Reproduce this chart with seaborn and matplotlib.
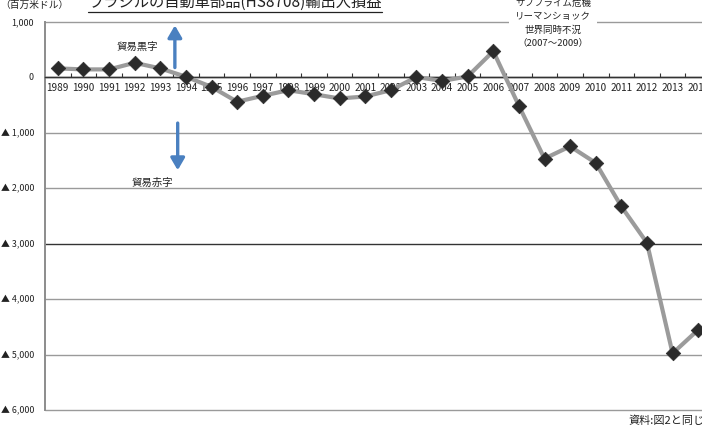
import numpy as np
import pandas as pd
import matplotlib
matplotlib.use("Agg")
import matplotlib.pyplot as plt
import seaborn as sns
from matplotlib.ticker import FuncFormatter, FixedLocator
from matplotlib.lines import Line2D

# Brazil auto-parts (HS8708) trade balance, million USD
years = list(range(1989, 2015))
balance = [155, 137, 137, 256, 155, 5, -178, -446, -339, -238, -310, -387,
           -351, -238, 0, -71, 10, 464, -518, -1470, -1250, -1548, -2333,
           -2988, -4980, -4554]
y_ticks = [1000, 0, -1000, -2000, -3000, -4000, -5000, -6000]

title = "ブラジルの自動車部品(HS8708)輸出入損益"
unit = "（百万米ドル）"
crisis_note = "サブプライム危機\nリーマンショック\n世界同時不況\n（2007〜2009）"
surplus_label = "貿易黒字"
deficit_label = "貿易赤字"
source = "資料:図2と同じ"

sns.set_theme(style="white")
plt.rcParams["font.family"] = ["Noto Sans CJK JP", "DejaVu Sans"]

df = pd.DataFrame({"year": years, "balance": balance})

fig = plt.figure(figsize=(7.02, 4.25), dpi=100)
ax = fig.add_axes([45 / 702, 1 - 410 / 425, 666 / 702, (410 - 21.5) / 425])

# horizontal grid
for v in y_ticks:
    dark = v in (0, -3000)
    ax.axhline(v, color="#333333" if dark else "#9a9a9a", lw=1.0, zorder=1,
               clip_on=False)

sns.lineplot(data=df, x="year", y="balance", color="#9b9b9b", lw=3.0,
             ax=ax, zorder=3)
sns.scatterplot(data=df, x="year", y="balance", marker="D", s=55,
                color="#2b2b2b", edgecolor="#2b2b2b", linewidth=0.5,
                ax=ax, zorder=4)

ax.set_xlim(years[0] - 0.5, years[-1] + 0.5)
ax.set_ylim(min(y_ticks), max(y_ticks))
ax.set_xlabel("")
ax.set_ylabel("")

# category axis sitting on the zero line
ax.spines["bottom"].set_position(("data", 0))
ax.spines["bottom"].set_color("#333333")
ax.spines["bottom"].set_linewidth(1.0)
ax.spines["left"].set_color("#8c8c8c")
ax.spines["left"].set_linewidth(1.4)
ax.spines["top"].set_visible(False)
ax.spines["right"].set_visible(False)

ax.xaxis.set_major_locator(FixedLocator(years))
ax.xaxis.set_minor_locator(FixedLocator([y + 0.5 for y in years]))
ax.set_xticklabels([str(y) for y in years])
ax.tick_params(axis="x", which="major", length=0, pad=4, labelsize=7.2,
               labelcolor="#222222")
ax.tick_params(axis="x", which="minor", length=3, direction="in",
               color="#333333", width=0.8, bottom=True)

def fmt(v, _):
    if v > 0:
        return f"{int(v):,}"
    if v == 0:
        return "0"
    return f"▲ {int(-v):,}"

ax.yaxis.set_major_locator(FixedLocator(y_ticks))
ax.yaxis.set_major_formatter(FuncFormatter(fmt))
ax.tick_params(axis="y", length=0, pad=8, labelsize=6.4, labelcolor="#222222")

# surplus / deficit arrows
arrow_kw = dict(arrowstyle="-|>,head_length=0.6,head_width=0.35",
                color="#4a80c0", lw=2.4)
ax.annotate("", xy=(1993.57, 980), xytext=(1993.57, 120),
            arrowprops=arrow_kw, zorder=5)
ax.annotate("", xy=(1993.68, -1730), xytext=(1993.68, -780),
            arrowprops=arrow_kw, zorder=5)
ax.text(1992.1, 540, surplus_label, ha="center", va="center", fontsize=7.5,
        color="#222222", zorder=6)
ax.text(1992.67, -1910, deficit_label, ha="center", va="center", fontsize=7.5,
        color="#222222", zorder=6)

# crisis note, breaking the top gridline
fig.text(553 / 702, 1 - 23 / 425, crisis_note, ha="center", va="center",
         fontsize=6.8, color="#222222", linespacing=1.55,
         bbox=dict(facecolor="white", edgecolor="none", pad=4))

# header
fig.text(0.0, 1 - 5 / 425, unit, ha="left", va="center", fontsize=7.0,
         color="#222222")
t = fig.text(88 / 702, 1 - 2 / 425, title, ha="left", va="center",
             fontsize=11, color="#222222")
fig.canvas.draw()
bb = t.get_window_extent().transformed(fig.transFigure.inverted())
uy = 1 - 12 / 425
fig.add_artist(Line2D([bb.x0, bb.x1], [uy, uy], transform=fig.transFigure,
                      color="#222222", lw=0.9))

fig.text(705 / 702, 1 - 421 / 425, source, ha="right", va="center",
         fontsize=8, color="#222222")

fig.savefig("out.png", dpi=100)
